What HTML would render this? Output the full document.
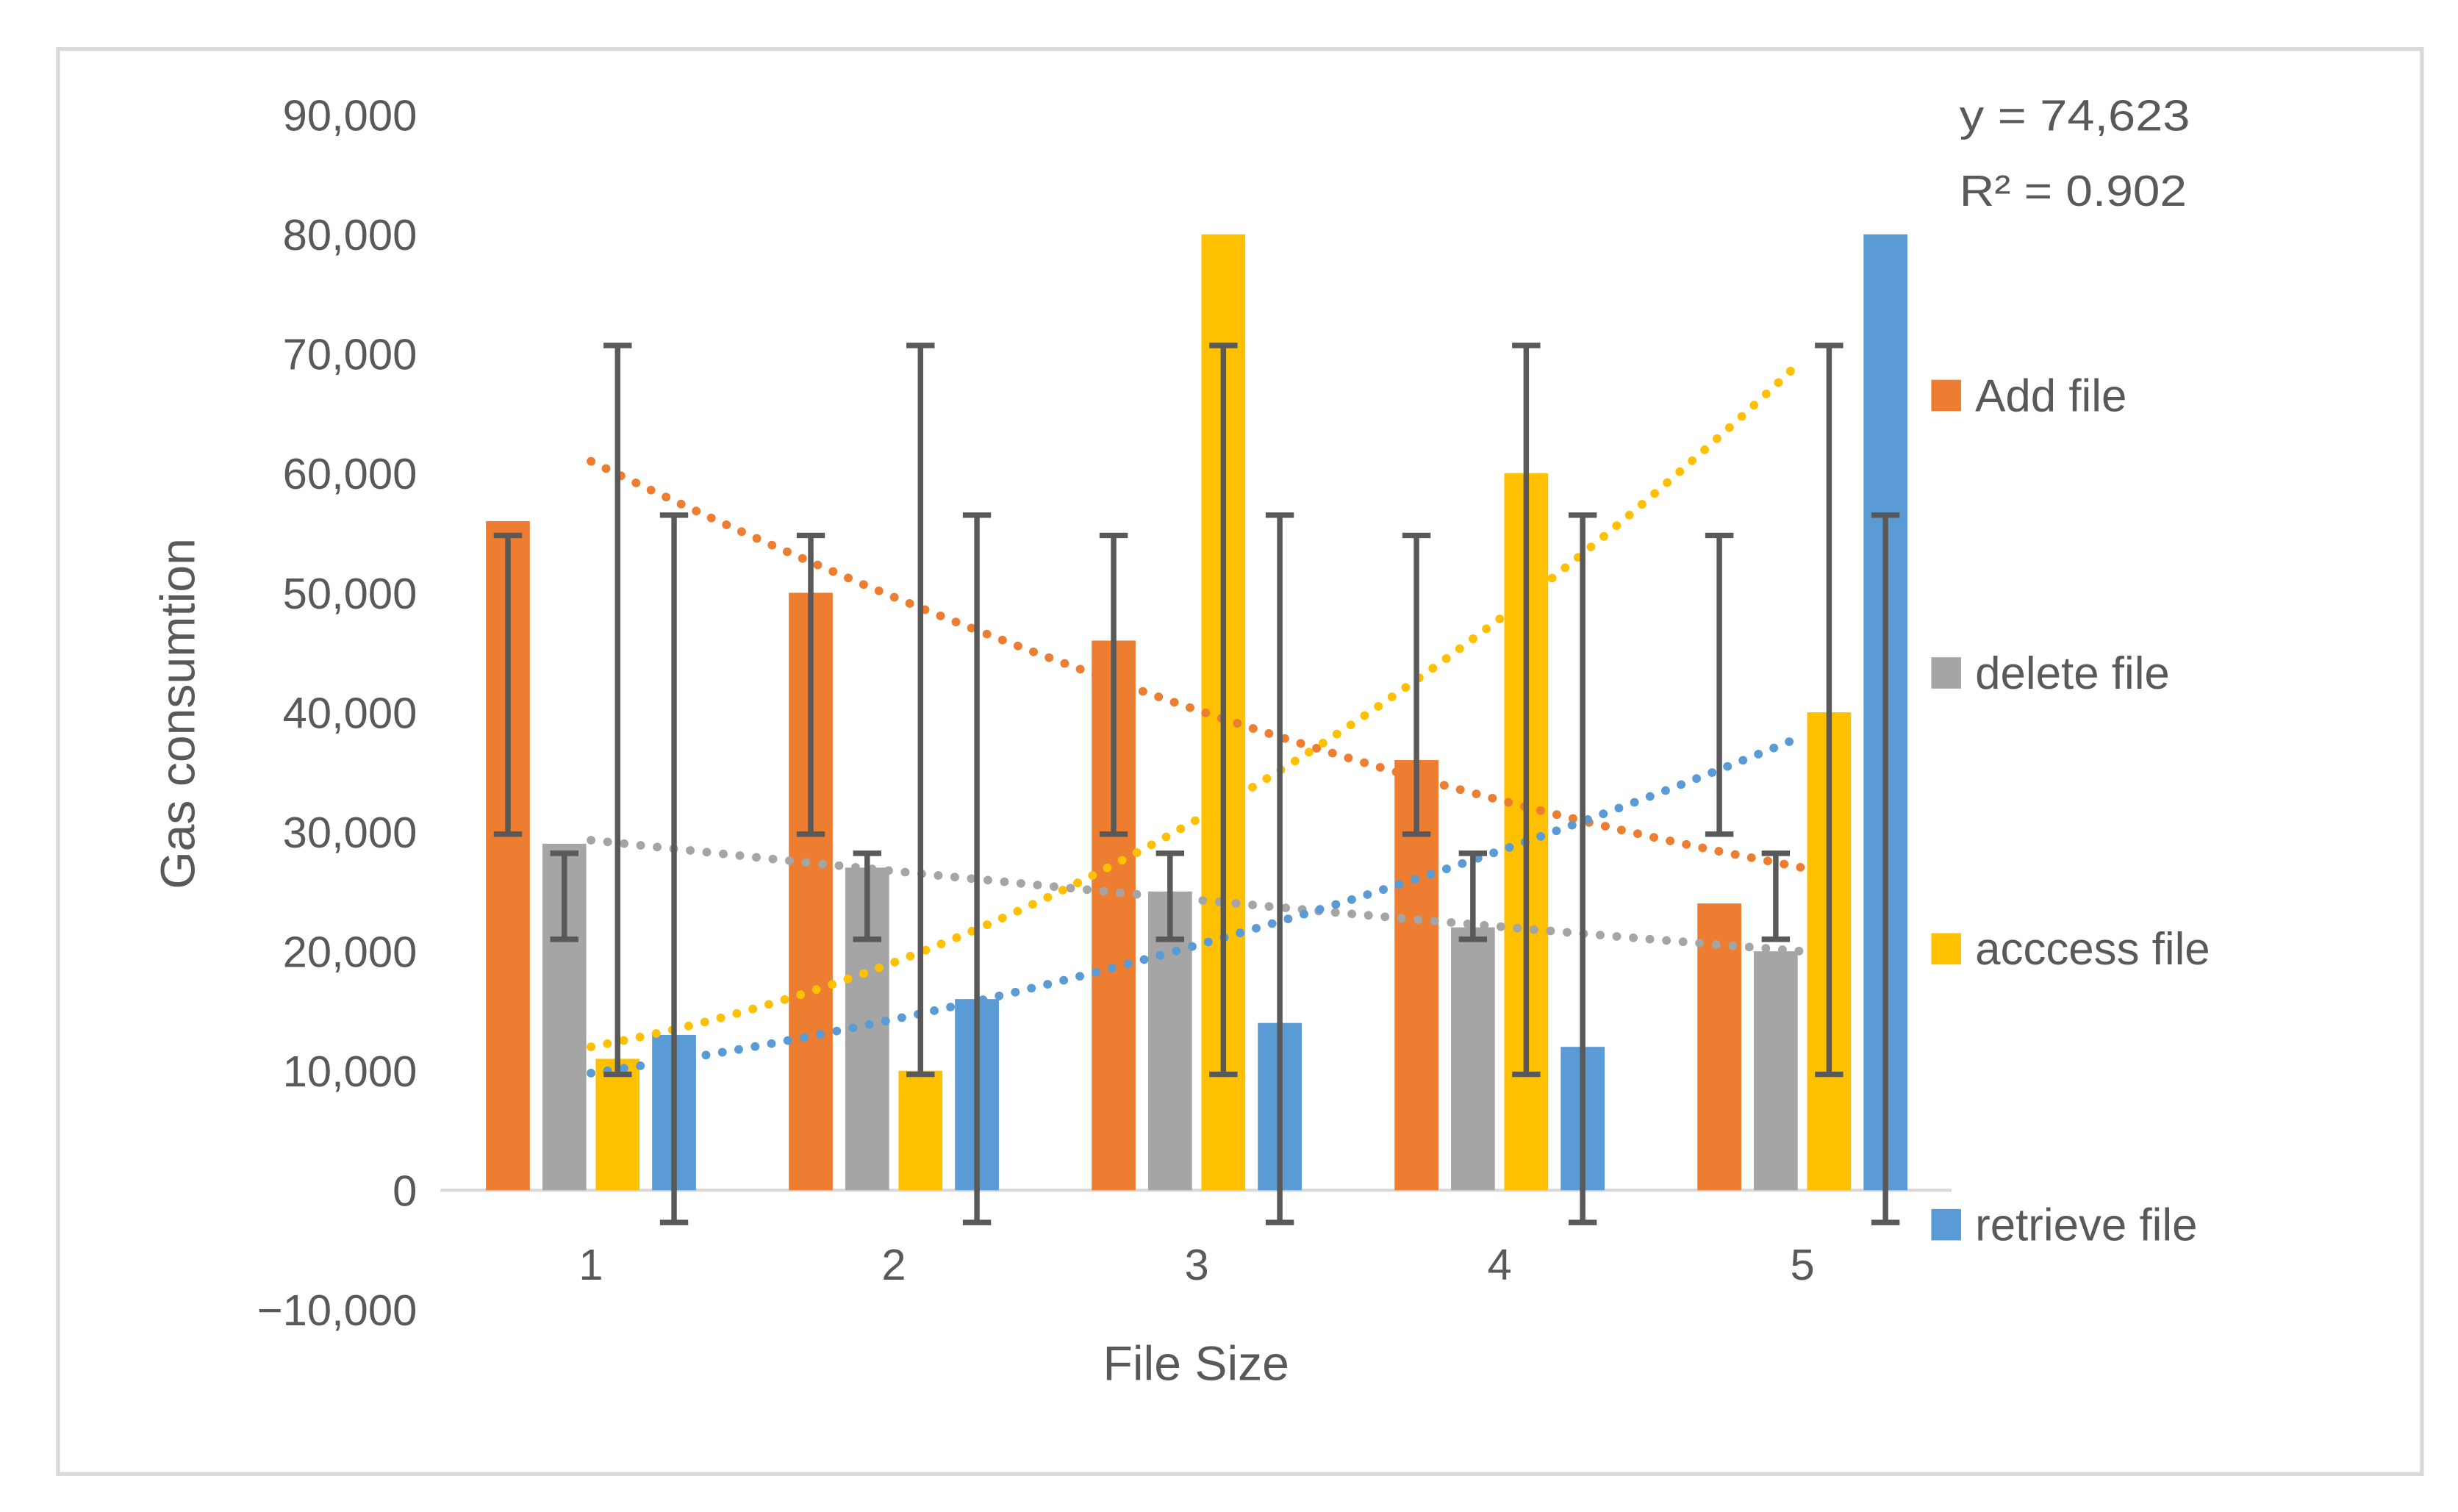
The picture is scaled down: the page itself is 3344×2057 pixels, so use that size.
<!DOCTYPE html>
<html><head><meta charset="utf-8"><style>
html,body{margin:0;padding:0;background:#fff}
svg{display:block}
text{font-family:"Liberation Sans",sans-serif;fill:#595959}
</style></head><body>
<svg id="chart" width="3344" height="2057" viewBox="0 0 1568 964" xmlns="http://www.w3.org/2000/svg">
<rect x="37" y="31" width="1508" height="909" fill="#fff" stroke="#d9d9d9" stroke-width="2.5"/>
<g id="grid"></g>
<g id="bars"></g>
<g id="trends"></g>
<g id="errs"></g>
<g id="labels"></g>
<text transform="translate(124,455) rotate(-90)" text-anchor="middle" font-size="31">Gas consumtion</text>
<text x="763" y="880" text-anchor="middle" font-size="31">File Size</text>
<text x="1250" y="83" font-size="28" textLength="147" lengthAdjust="spacingAndGlyphs">y = 74,623</text>
<text x="1250" y="131" font-size="28" textLength="145" lengthAdjust="spacingAndGlyphs">R² = 0.902</text>
<g id="legend"></g>
</svg>
<script>
const categories = ["1","2","3","4","5"];
const seriesNames = ["Add file","delete file","acccess file","retrieve file"];
const addFile = [56000,50000,46000,36000,24000];
const deleteFile = [29000,27000,25000,22000,20000];
const accessFile = [11000,10000,80000,60000,40000];
const retrieveFile = [13000,16000,14000,12000,80000];
const errLow = [29800,21000,9700,-2700];
const errHigh = [54800,28200,70700,56500];
const trendAdd = [61000,40200,27000];
const trendDelete = [29300,24300,20000];
const trendAccess = [12000,31000,69500];
const trendRetrieve = [9800,20500,38000];
const yTicks = [-10000,0,10000,20000,30000,40000,50000,60000,70000,80000,90000];
const colors = ["#ED7D31","#A5A5A5","#FFC000","#5B9BD5"];
const NS="http://www.w3.org/2000/svg";
const Y=v=>759-v*(686/90000);
const X=i=>377+i*193.2;
const off=[-53,-17,17,53];
function mk(tag,parent){const e=document.createElementNS(NS,tag);document.getElementById(parent).appendChild(e);return e;}
yTicks.forEach(t=>{const e=mk('text','labels');


e.setAttribute('x',266);e.setAttribute('y',Y(t)+10);e.setAttribute('text-anchor','end');e.setAttribute('font-size','28');
e.textContent=t.toLocaleString('en-US').replace('-','\u2212');});
categories.forEach((c,i)=>{const e=mk('text','labels');


e.setAttribute('x',X(i));e.setAttribute('y',816);e.setAttribute('text-anchor','middle');e.setAttribute('font-size','28');e.textContent=c;});
const ax=mk('line','grid');


ax.setAttribute('x1',281);ax.setAttribute('x2',1245);ax.setAttribute('y1',759);ax.setAttribute('y2',759);ax.setAttribute('stroke','#d9d9d9');ax.setAttribute('stroke-width','2');
const series=[addFile,deleteFile,accessFile,retrieveFile];
series.forEach((s,k)=>{s.forEach((v,i)=>{const r=mk('rect','bars');


const cx=X(i)+off[k];r.setAttribute('x',cx-14);r.setAttribute('width',28);
r.setAttribute('y',Math.min(Y(v),Y(0)));r.setAttribute('height',Math.abs(Y(0)-Y(v)));r.setAttribute('fill',colors[k]);
const lo=errLow[k],hi=errHigh[k];
const p=mk('path','errs');


p.setAttribute('d',`M${cx},${Y(lo)}V${Y(hi)}M${cx-9},${Y(lo)}H${cx+9}M${cx-9},${Y(hi)}H${cx+9}`);
p.setAttribute('stroke','#595959');p.setAttribute('stroke-width','3.5');p.setAttribute('fill','none');});});
[trendAdd,trendDelete,trendAccess,trendRetrieve].forEach((t,k)=>{
const a=(t[0]-2*t[1]+t[2])/8, b=(t[2]-t[0])/4, c=t[1];
let d='';for(let s=0;s<=40;s++){const x=1+s*0.1;const v=a*(x-3)*(x-3)+b*(x-3)+c;d+=(s?'L':'M')+X(x-1).toFixed(1)+','+Y(v).toFixed(1);}
const p=mk('path','trends');


p.setAttribute('d',d);p.setAttribute('fill','none');p.setAttribute('stroke',colors[k]);p.setAttribute('stroke-width','5.5');p.setAttribute('stroke-linecap','round');p.setAttribute('stroke-dasharray','0.1 10.5');});
const ly=[252,429,605,781];
seriesNames.forEach((n,k)=>{const r=mk('rect','legend');


r.setAttribute('x',1232);r.setAttribute('y',ly[k]-10);r.setAttribute('width',19);r.setAttribute('height',20);r.setAttribute('fill',colors[k]);
const t=mk('text','legend');


t.setAttribute('x',1260);t.setAttribute('y',ly[k]+10);t.setAttribute('font-size','29');t.textContent=n;});
</script>
</body></html>
